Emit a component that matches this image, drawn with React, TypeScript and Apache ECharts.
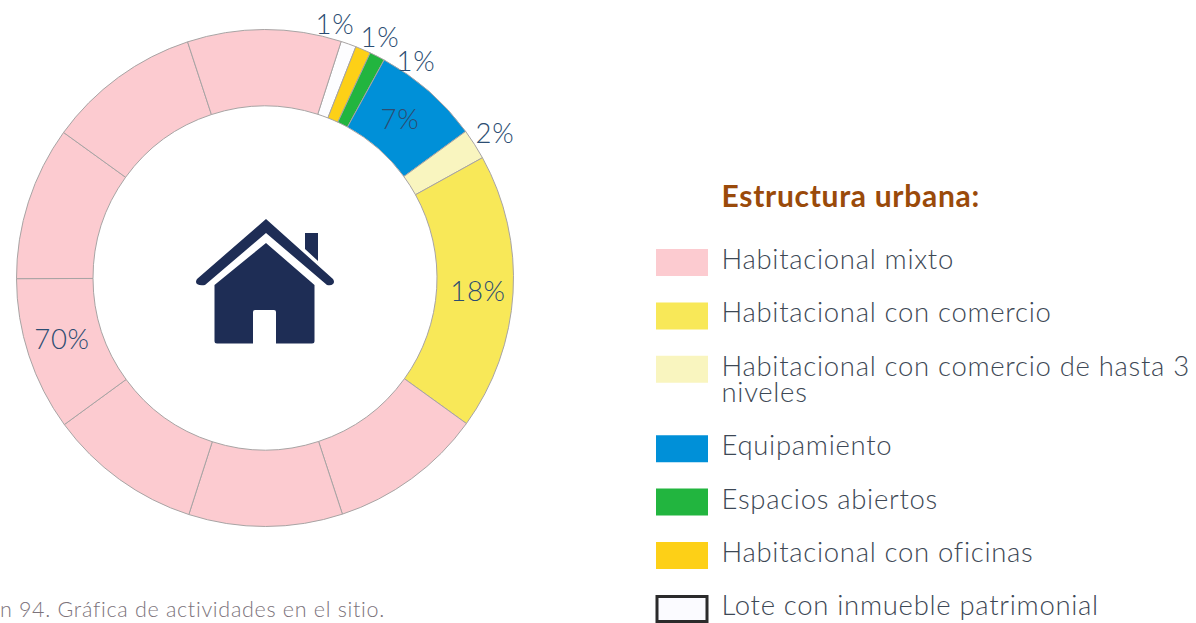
import React, { useEffect, useRef } from "react";
import * as echarts from "echarts";

const FONT = "Lato";
const sliceNames = ["Lote con inmueble patrimonial", "Habitacional con oficinas", "Espacios abiertos", "Equipamiento", "Habitacional con comercio de hasta 3 niveles", "Habitacional con comercio"];
const sliceValues = [1, 1, 1, 7, 2, 18];
const sliceColors = ["#fdfdff", "#fdd017", "#22b53f", "#0090d8", "#f9f5bf", "#f8e858"];
const sliceLabels = ["1%", "1%", "1%", "7%", "2%", "18%"];
const pinkName = "Habitacional mixto";
const pinkValues = [10, 10, 10, 10, 10, 10, 10];
const pinkLabels = ["", "", "", "70%", "", "", ""];
const pinkColor = "#fccbd0";
const legendRows = [
  { text: "Habitacional mixto", color: "#fccbd0" },
  { text: "Habitacional con comercio", color: "#f8e858" },
  { text: "Habitacional con comercio de hasta 3\nniveles", color: "#f9f5bf" },
  { text: "Equipamiento", color: "#0090d8" },
  { text: "Espacios abiertos", color: "#22b53f" },
  { text: "Habitacional con oficinas", color: "#fdd017" },
  { text: "Lote con inmueble patrimonial", color: "#fbfbff" },
];
const legendTitle = "Estructura urbana:";
const caption = "Imagen 94. Gráfica de actividades en el sitio.";
const labelSpots: Record<number, [number, number]> = {
  0: [335, 23],
  1: [380, 36],
  2: [416, 60],
  3: [400, 118],
  4: [495, 132],
  5: [478, 290],
  9: [62, 338],
};

const HOUSE =
  "M266 219 L333 279 Q335 282 333 284 Q331 286 327 285 L266 233 L205 285 Q200 286 197 284 Q195 282 197 279 Z " +
  "M305 233 L318 233 L318 261 L305 249 Z " +
  "M266 243 L314.5 285 L314.5 341 Q314.5 343.5 312 343.5 L276 343.5 L276 312 Q276 310 274 310 L255 310 Q253 310 253 312 L253 343.5 L217 343.5 Q214.5 343.5 214.5 341 L214.5 285 Z";

echarts.graphic.registerShape("house", echarts.graphic.extendPath(HOUSE, {}) as any);

export default function App() {
  const ref = useRef<HTMLDivElement>(null);
  useEffect(() => {
    if (!ref.current) return;
    document.body.style.margin = "0";
    const chart = echarts.init(ref.current, undefined, { renderer: "svg" });

    const data = [
      ...sliceValues.map((value, i) => ({
        name: sliceNames[i],
        value,
        itemStyle: { color: sliceColors[i] },
        label: { show: true, formatter: sliceLabels[i], position: "inside" as const },
      })),
      ...pinkValues.map((value, i) => ({
        name: pinkName,
        value,
        itemStyle: { color: pinkColor },
        label: { show: pinkLabels[i] !== "", formatter: pinkLabels[i], position: "inside" as const },
      })),
    ];

    const rowHeight = 53.4;
    const lineHeight = 26;
    const legendGraphics: any[] = [];
    let y = 262;
    legendRows.forEach((row, i) => {
      const last = i === legendRows.length - 1;
      legendGraphics.push({
        type: "rect",
        shape: { x: last ? 657 : 656, y: y - 13 + (last ? 1 : 0), width: last ? 50 : 52, height: last ? 25 : 27 },
        style: { fill: row.color, stroke: last ? "#2b2b2b" : undefined, lineWidth: last ? 3 : 0 },
      });
      legendGraphics.push({
        type: "text",
        x: 721.5,
        y: y - 16.5,
        style: { text: row.text, fill: "#3d4855", font: `300 27.5px ${FONT}`, lineHeight, verticalAlign: "top", align: "left" },
      });
      y += rowHeight + (row.text.includes("\n") ? lineHeight : 0);
    });

    chart.setOption({
      animation: false,
      series: [
        {
          type: "pie",
          silent: true,
          center: [265, 278],
          radius: [172, 248.5],
          startAngle: 72.15,
          clockwise: true,
          avoidLabelOverlap: false,
          data,
          itemStyle: { borderColor: "#a8a4a4", borderWidth: 1 },
          label: { color: "#2c4d72", fontFamily: FONT, fontWeight: 300, fontSize: 27.5 },
          labelLine: { show: false },
          labelLayout: (p: any) => {
            const spot = labelSpots[p.dataIndex];
            return spot ? { x: spot[0], y: spot[1], align: "center", verticalAlign: "middle" } : {};
          },
        },
      ],
      graphic: [
        { type: "house", x: 0, y: 0, style: { fill: "#1e2d55" } },
        { type: "text", x: 721.5, y: 195, style: { text: legendTitle, fill: "#9a4a0a", font: `bold 30px ${FONT}`, verticalAlign: "middle" } },
        { type: "text", x: 385, y: 609, style: { text: caption, fill: "#7c737b", font: `300 21.5px ${FONT}`, align: "right", verticalAlign: "middle" } },
        ...legendGraphics,
      ],
    });
    return () => chart.dispose();
  }, []);
  return <div ref={ref} style={{ position: "absolute", left: 0, top: 0, width: 1196, height: 623, letterSpacing: "0.7px" }} />;
}
